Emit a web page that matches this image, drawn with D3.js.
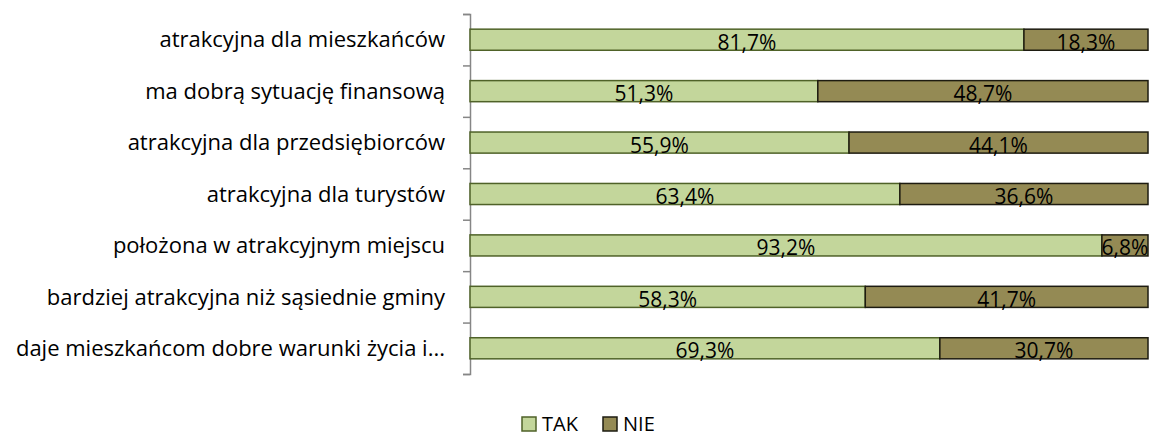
<!DOCTYPE html>
<html>
<head>
<meta charset="utf-8">
<script src="https://cdn.jsdelivr.net/npm/d3@7"></script>
<style>
  body { margin: 0; background: #fff; }
  text { font-family: "Open Sans", sans-serif; fill: #000; }
</style>
</head>
<body>
<div id="chart"></div>
<script>
// categories, top to bottom
var categories = [
  "atrakcyjna dla mieszkańców",
  "ma dobrą sytuację finansową",
  "atrakcyjna dla przedsiębiorców",
  "atrakcyjna dla turystów",
  "położona w atrakcyjnym miejscu",
  "bardziej atrakcyjna niż sąsiednie gminy",
  "daje mieszkańcom dobre warunki życia i..."
];
var tak = [81.7, 51.3, 55.9, 63.4, 93.2, 58.3, 69.3];
var nie = [18.3, 48.7, 44.1, 36.6, 6.8, 41.7, 30.7];
var seriesNames = ["TAK", "NIE"];

var width = 1154, height = 436;
var margin = { top: 14, left: 470, right: 6, bottom: 62 };

var svg = d3.select("#chart").append("svg")
  .attr("width", width)
  .attr("height", height);

var x = d3.scaleLinear().domain([0, 100]).range([margin.left, width - margin.right]);
var y = d3.scaleBand().domain(categories)
  .range([margin.top, height - margin.bottom])
  .paddingInner(0.59).paddingOuter(0.295);

// boundary ticks of the category axis
var yEdge = d3.scaleLinear().domain([0, categories.length]).range([margin.top, height - margin.bottom]);
var axis = svg.append("g")
  .attr("transform", "translate(" + margin.left + ",0)")
  .call(d3.axisLeft(yEdge).tickValues(d3.range(categories.length + 1)).tickFormat("").tickSizeInner(7).tickSizeOuter(7));
axis.selectAll("line, path").attr("stroke", "#868686").attr("stroke-width", 1.5);

var fmt = function(v) { return d3.format(".1f")(v).replace(".", ",") + "%"; };

var data = categories.map(function(c, i) {
  return { cat: c, tak: tak[i], nie: nie[i] };
});

var styles = {
  TAK: { fill: "#c3d69b", stroke: "#4f6228" },
  NIE: { fill: "#948a54", stroke: "#1d1b10" }
};

var rows = svg.selectAll(".row").data(data).enter().append("g").attr("class", "row");

rows.append("rect")
  .attr("x", d => x(0))
  .attr("y", d => y(d.cat))
  .attr("width", d => x(d.tak) - x(0))
  .attr("height", y.bandwidth())
  .attr("fill", styles.TAK.fill)
  .attr("stroke", styles.TAK.stroke)
  .attr("stroke-width", 1.5);

rows.append("rect")
  .attr("x", d => x(d.tak))
  .attr("y", d => y(d.cat))
  .attr("width", d => x(d.tak + d.nie) - x(d.tak))
  .attr("height", y.bandwidth())
  .attr("fill", styles.NIE.fill)
  .attr("stroke", styles.NIE.stroke)
  .attr("stroke-width", 1.5);

rows.append("text")
  .attr("x", d => x(d.tak / 2))
  .attr("y", d => y(d.cat) + y.bandwidth() - 0.5)
  .attr("text-anchor", "middle")
  .style("font-size", "21px")
  .text(d => fmt(d.tak));

rows.append("text")
  .attr("x", d => x(d.tak + d.nie / 2))
  .attr("y", d => y(d.cat) + y.bandwidth() - 0.5)
  .attr("text-anchor", "middle")
  .style("font-size", "21px")
  .text(d => fmt(d.nie));

// category labels
rows.append("text")
  .attr("x", margin.left - 25)
  .attr("y", d => y(d.cat) + y.bandwidth() / 2)
  .attr("dy", "0.35em")
  .attr("text-anchor", "end")
  .style("font-size", "22px")
  .text(d => d.cat);

// legend
var legend = svg.append("g").attr("transform", "translate(522,0)");
var legX = [0, 81];
seriesNames.forEach(function(name, i) {
  legend.append("rect")
    .attr("x", legX[i]).attr("y", 417)
    .attr("width", 14).attr("height", 14)
    .attr("fill", styles[name].fill)
    .attr("stroke", styles[name].stroke)
    .attr("stroke-width", 1.5);
  legend.append("text")
    .attr("x", legX[i] + 20).attr("y", 431)
    .style("font-size", "20px")
    .text(name);
});
</script>
</body>
</html>
